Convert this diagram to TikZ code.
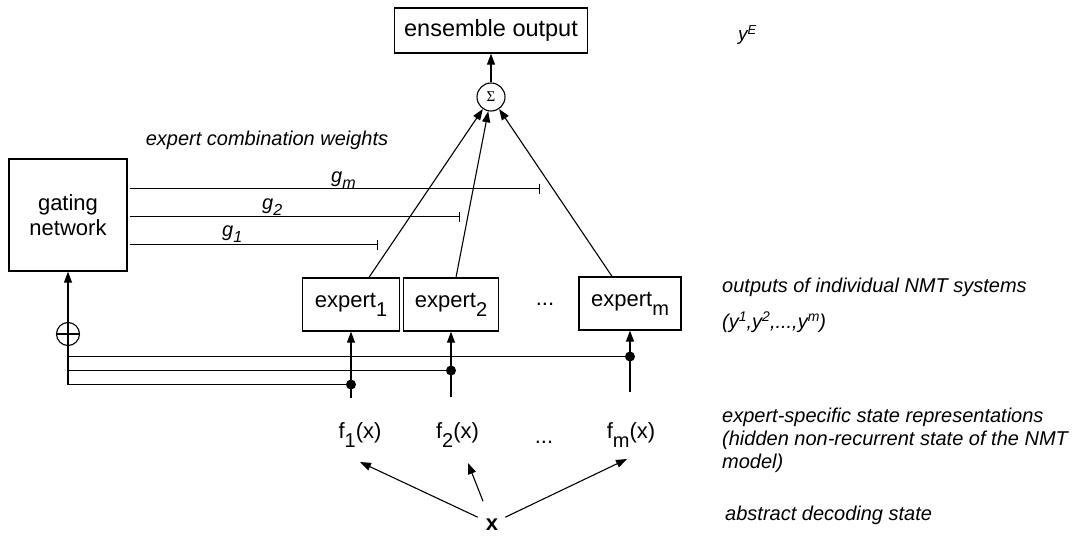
\documentclass[tikz,border=0pt]{standalone}
\usepackage{fontspec}
\setmainfont{Liberation Sans}
\newfontfamily\sigfont{Liberation Serif}
\usetikzlibrary{arrows.meta,calc}
\newcommand\sbx[1]{\raisebox{-9pt}{\fontsize{20}{20}\selectfont #1}}
\newcommand\sbg[1]{\raisebox{-6pt}{\fontsize{16}{16}\selectfont #1}}
\newcommand\spx[1]{\raisebox{7pt}{\fontsize{14}{14}\selectfont #1}}
\begin{document}
\begin{tikzpicture}[x=1pt,y=-1pt,
  box/.style={draw,line width=1.3pt,inner sep=0pt,font=\fontsize{22}{25}\selectfont,align=center},
  lbl/.style={font=\fontsize{20}{23}\selectfont\itshape,inner sep=0pt,align=left},
  txt/.style={font=\fontsize{22}{25}\selectfont,inner sep=0pt},
  ln/.style={line width=1.1pt},
  arr/.style={ln,-{Triangle[length=11pt,width=8pt]}},
  barend/.style={ln,-{Bar[width=10pt]}},
  dot/.style={circle,fill,inner sep=0pt,minimum size=10pt}]
\useasboundingbox (0,0) rectangle (1083,535);
% top
\node[box,minimum width=193pt,minimum height=45pt,font=\fontsize{23.5}{25}\selectfont] (ens) at (491,30.5) {ensemble output};
\node[draw,circle,line width=1.1pt,minimum size=28pt,inner sep=0pt] (sig) at (491,97) {\sigfont\fontsize{15}{15}\selectfont Σ};
\draw[arr] (sig) -- (ens.south);
\node[lbl,anchor=base west,font=\fontsize{19}{19}\selectfont\itshape] (yE) at (738,41) {y\raisebox{6pt}{\fontsize{13}{13}\selectfont E}};
% gating
\node[box,minimum width=118pt,minimum height=112pt] (gate) at (68,215) {gating\\network};
\node[lbl] (ecw) at (267,140) {expert combination weights};
\coordinate (gmE) at (540,188.5);
\coordinate (g2E) at (460,216.5);
\coordinate (g1E) at (378,244.5);
\draw[barend,shorten <=2pt] (gate.east |- gmE) -- (gmE);
\draw[barend,shorten <=2pt] (gate.east |- g2E) -- (g2E);
\draw[barend,shorten <=2pt] (gate.east |- g1E) -- (g1E);
\node[lbl,anchor=base west] (gm) at (331,182) {g\sbg{m}};
\node[lbl,anchor=base west] (g2) at (262,209) {g\sbg{2}};
\node[lbl,anchor=base west] (g1) at (222,236) {g\sbg{1}};
% experts
\node[box,minimum width=97pt,minimum height=53pt] (e1) at (351,304.5) {expert\sbx{1}};
\node[box,minimum width=95pt,minimum height=53pt] (e2) at (451,304.5) {expert\sbx{2}};
\node[box,minimum width=102pt,minimum height=53pt] (em) at (630,303.5) {expert\sbx{m}};
\node[txt] (dots1) at (545,304) {...};
\draw[arr] ([xshift=18pt]e1.north) -- (sig);
\draw[arr] ([xshift=5pt]e2.north) -- (sig);
\draw[arr] ([xshift=-18pt]em.north) -- (sig);
% bus
\node[dot] (k1) at (351,384.5) {};
\node[dot] (k2) at (451,370.5) {};
\node[dot] (km) at (630,356.5) {};
\draw[ln] (k1.center) -- (gate.south |- k1.center);
\draw[ln] (k2.center) -- (gate.south |- k2.center);
\draw[ln] (km.center) -- (gate.south |- km.center);
\draw[arr] (gate.south |- k1.center) -- (gate.south);
\node[draw,circle,ln,minimum size=23pt,inner sep=0pt] (op) at (68,334) {};
\draw[ln] (op.west) -- (op.east);
% feature inputs
\coordinate (b1) at (351,398);
\coordinate (b2) at (451,397);
\coordinate (bm) at (630,392);
\draw[arr] (b1) -- (e1.south);
\draw[arr] (b2) -- (e2.south);
\draw[arr] (bm) -- (em.south);
\node[txt,anchor=base] (f1) at (360,438) {f\sbx{1}(x)};
\node[txt,anchor=base] (f2) at (457.5,438) {f\sbx{2}(x)};
\node[txt,anchor=base] (fm) at (631,438) {f\sbx{m}(x)};
\node[txt,anchor=base] (dots2) at (544,443) {...};
\node[font=\fontsize{22}{22}\selectfont\bfseries,inner sep=0pt,anchor=base] (x) at (492,530) {x};
\coordinate (s1) at ($(x.north west)+(-8,-1)$);
\coordinate (s2) at ($(x.north)+(-9,-17)$);
\coordinate (sm) at ($(x.north east)+(7,-1)$);
\coordinate (t1) at (360,462);
\coordinate (t2) at (468,463);
\coordinate (tm) at (627,459);
\draw[arr] (s1) -- (t1);
\draw[arr] (s2) -- (t2);
\draw[arr] (sm) -- (tm);
% right labels
\node[lbl,anchor=west] (o1) at (722,287) {outputs of individual NMT systems};
\node[lbl,anchor=west] (o2) at (722,322) {(y\spx{1},y\spx{2},...,y\spx{m})};
\node[lbl,anchor=west] (es) at (722,440) {expert-specific state representations\\(hidden non-recurrent state of the NMT\\model)};
\node[lbl,anchor=west] (ab) at (725,515) {abstract decoding state};
\end{tikzpicture}
\end{document}
